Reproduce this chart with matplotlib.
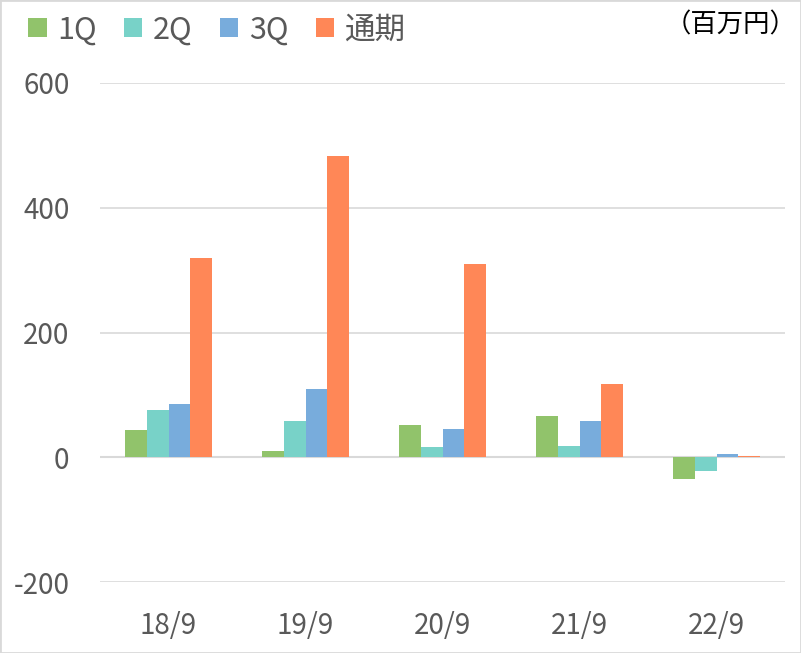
import matplotlib
matplotlib.use("Agg")
import matplotlib.pyplot as plt
import numpy as np
from matplotlib.patches import Rectangle

plt.rcParams["font.family"] = ["Noto Sans CJK JP", "DejaVu Sans"]
plt.rcParams["axes.unicode_minus"] = False

categories = ["18/9", "19/9", "20/9", "21/9", "22/9"]
series_names = ["1Q", "2Q", "3Q", "通期"]
q1 = [43, 10, 51, 66, -35]
q2 = [75, 58, 16, 18, -22]
q3 = [86, 109, 45, 58, 5]
full_year = [320, 483, 310, 118, 2]
yticks = [-200, 0, 200, 400, 600]

colors = ["#91C36B", "#78D2C8", "#78ACDC", "#FF8757"]
TXT = "#595959"

fig = plt.figure(figsize=(8.01, 6.53), dpi=100)
ax = fig.add_axes([100 / 801, 71 / 653, 685 / 801, 499 / 653])

x = np.arange(len(categories))
w = 0.16
for i, (vals, name) in enumerate(zip([q1, q2, q3, full_year], series_names)):
    ax.bar(x + (i - 1.5) * w, vals, w, color=colors[i], label=name, zorder=3)

ax.set_xlim(-0.5, len(categories) - 0.5)
ax.set_ylim(-200, 600)
ax.set_yticks(yticks)
ax.set_yticklabels([str(v) for v in yticks])
ax.set_xticks(x)
ax.set_xticklabels(categories)
ax.grid(axis="y", color="#D9D9D9", lw=1.2, zorder=0)
ax.axhline(0, color="#D9D9D9", lw=1.5, zorder=2)
for s in ax.spines.values():
    s.set_visible(False)
ax.tick_params(axis="both", length=0, labelsize=20, colors=TXT)
ax.tick_params(axis="y", pad=22)
ax.tick_params(axis="x", pad=21)

leg = fig.legend(loc="upper left", bbox_to_anchor=(16 / 801, 1 - 2 / 653), ncol=4,
                 frameon=False, fontsize=22, handlelength=0.6, handleheight=0.6,
                 handletextpad=0.34, columnspacing=0.9, borderaxespad=0)
for t in leg.get_texts():
    t.set_color(TXT)

fig.text(797 / 801, 1 - 25 / 653, "（百万円）", ha="right", va="center",
         fontsize=19, color="#000000")

fig.patches.append(Rectangle((0, 0), 1, 1, transform=fig.transFigure, fill=False,
                             edgecolor="#D9D9D9", lw=2))

fig.savefig("out.png", dpi=100)
